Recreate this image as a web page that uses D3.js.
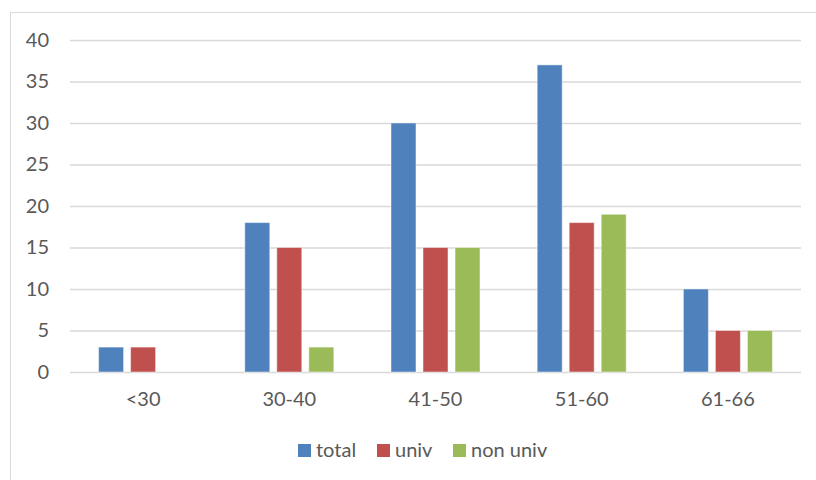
<!DOCTYPE html>
<html>
<head>
<meta charset="utf-8">
<script src="https://cdn.jsdelivr.net/npm/d3@7/dist/d3.min.js"></script>
<style>
  html, body { margin: 0; padding: 0; background: #fff; }
  svg { display: block; }
  text { font-family: Lato, "Open Sans", sans-serif; fill: #595959; }
</style>
</head>
<body>
<svg id="chart" width="816" height="480"></svg>
<script>
// Age groups and counts per series
const categories = ["<30", "30-40", "41-50", "51-60", "61-66"];
const seriesNames = ["total", "univ", "non univ"];
const total = [3, 18, 30, 37, 10];
const univ = [3, 15, 15, 18, 5];
const nonUniv = [0, 3, 15, 19, 5];
const yTicks = [0, 5, 10, 15, 20, 25, 30, 35, 40];
const colors = ["#4F81BD", "#C0504D", "#9BBB59"];

const seriesValues = [total, univ, nonUniv];
const fontSize = "20px";

const svg = d3.select("#chart");
const W = 816, H = 480;

// chart frame
svg.append("rect")
  .attr("x", 10.5).attr("y", 12.5)
  .attr("width", W + 20).attr("height", H + 20)
  .attr("fill", "#fff").attr("stroke", "#d9d9d9").attr("stroke-width", 1);

const plot = { left: 70, right: 801, top: 40, bottom: 372 };

const x0 = d3.scaleBand().domain(categories)
  .range([plot.left, plot.right]).paddingInner(0).paddingOuter(0);
const groupW = 89;
const x1 = d3.scaleBand().domain(seriesNames)
  .range([0, groupW]).paddingInner(0.22).paddingOuter(0);
const y = d3.scaleLinear().domain([0, 40]).range([plot.bottom, plot.top]);

// gridlines and y labels
const yAxis = d3.axisLeft(y).tickValues(yTicks)
  .tickSize(-(plot.right - plot.left)).tickPadding(21).tickFormat(d3.format("d"));
const gy = svg.append("g").attr("transform", `translate(${plot.left},0)`).call(yAxis);
gy.select(".domain").remove();
gy.selectAll(".tick line").attr("stroke", "#d9d9d9").attr("stroke-width", 1.3);
gy.selectAll(".tick text").style("font-size", fontSize).attr("fill", "#595959")
  .style("font-family", "Lato, sans-serif");

// x labels
const xAxis = d3.axisBottom(x0).tickSize(0).tickPadding(20);
const gx = svg.append("g").attr("transform", `translate(0,${plot.bottom})`).call(xAxis);
gx.select(".domain").remove();
gx.selectAll(".tick text").style("font-size", fontSize).attr("fill", "#595959")
  .style("font-family", "Lato, sans-serif");

// bars
const rows = categories.map((c, i) => ({
  cat: c,
  vals: seriesNames.map((s, k) => ({ s, k, v: seriesValues[k][i] }))
}));
const groups = svg.append("g").selectAll("g").data(rows).join("g")
  .attr("transform", d => `translate(${x0(d.cat) + x0.bandwidth() / 2 - groupW / 2},0)`);
groups.selectAll("rect").data(d => d.vals.filter(v => v.v > 0)).join("rect")
  .attr("x", d => x1(d.s))
  .attr("width", x1.bandwidth())
  .attr("y", d => y(d.v))
  .attr("height", d => y(0) - y(d.v))
  .attr("fill", d => colors[d.k])
  .attr("stroke", "rgba(255,255,255,0.45)")
  .attr("stroke-width", 1);

// legend
const legendItems = [
  { name: "total", x: 298 },
  { name: "univ", x: 377 },
  { name: "non univ", x: 453 }
];
const lg = svg.append("g").selectAll("g").data(legendItems).join("g")
  .attr("transform", d => `translate(${d.x},444)`);
lg.append("rect").attr("width", 13).attr("height", 13)
  .attr("fill", (d, i) => colors[i]);
lg.append("text").attr("x", 18).attr("y", 13)
  .style("font-size", fontSize).text(d => d.name);
</script>
</body>
</html>
